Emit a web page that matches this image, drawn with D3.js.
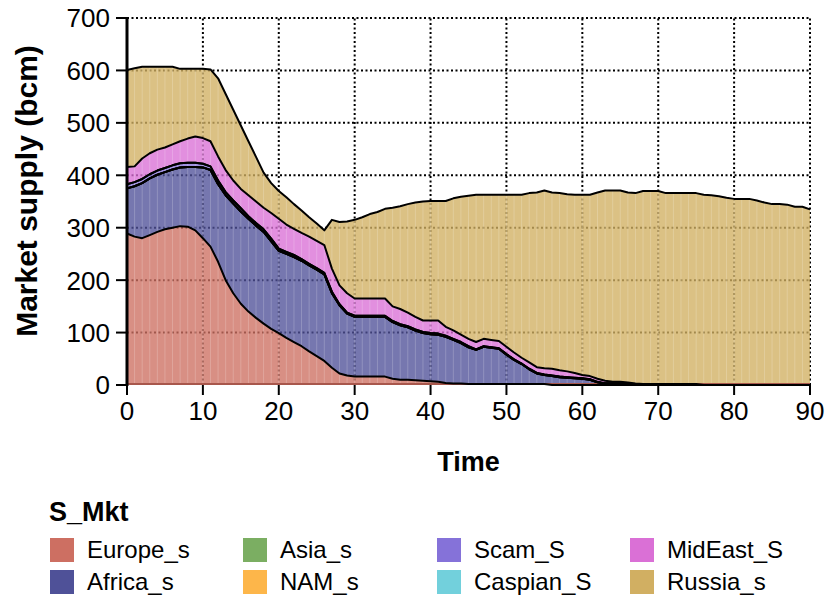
<!DOCTYPE html>
<html><head><meta charset="utf-8">
<script src="https://cdn.jsdelivr.net/npm/d3@7/dist/d3.min.js"></script>
<style>body{margin:0;background:#fff} text{font-family:"Liberation Sans",Arial,sans-serif;fill:#000}</style>
</head><body><svg id="c" width="827" height="595"></svg>
<script>
const time = [0,1,2,3,4,5,6,7,8,9,10,11,12,13,14,15,16,17,18,19,20,21,22,23,24,25,26,27,28,29,30,31,32,33,34,35,36,37,38,39,40,41,42,43,44,45,46,47,48,49,50,51,52,53,54,55,56,57,58,59,60,61,62,63,64,65,66,67,68,69,70,71,72,73,74,75,76,77,78,79,80,81,82,83,84,85,86,87,88,89,90];
const europe_s = [289,283,280,286,292,297,300,303,302,295, 280,264,235,200,175,155,140,128,117,107, 99,90,82,74,64,55,46,33,22,18, 16,16,16,16,16,12,10,10,9,8, 7,6,4,3,3,2,2,2,2,2, 2,2,2,2,2,2,0,0,0,0, 0,0,0,0,0,0,0,0,0,0, 0,0,0,0,0,0,0,0,0,0, 0,0,0,0,0,0,0,0,0,0,0];
const africa_s = [86,96,105,108,109,109,111,112,114,121, 135,146,148,162,171,176,177,176,175,167, 157,160,162,163,164,165,165,142,130,118, 114,114,114,114,114,108,104,100,95,91, 90,90,88,83,77,70,65,71,69,67, 56,46,38,28,20,17,17,15,14,13, 12,10,5,3,3,3,2,1,0,0, 0,0,0,0,0,0,0,0,0,0, 0,0,0,0,0,0,0,0,0,0,0];
const asia_s = [0,0,0,0,0,0,0,0,0,0, 0,0,0,0,0,0,0,0,0,0, 0,0,0,0,0,0,0,0,0,0, 0,0,0,0,0,0,0,0,0,0, 0,0,0,0,0,0,0,0,0,0, 0,0,0,0,0,0,0,0,0,0, 0,0,0,0,0,0,0,0,0,0, 0,0,0,0,0,0,0,0,0,0, 0,0,0,0,0,0,0,0,0,0,0];
const nam_s = [0,0,0,0,0,0,0,0,0,0, 0,0,0,0,0,0,0,0,0,0, 0,0,0,0,0,0,0,0,0,0, 0,0,0,0,0,0,0,0,0,0, 0,0,0,0,0,0,0,0,0,0, 0,0,0,0,0,0,0,0,0,0, 0,0,0,0,0,0,0,0,0,0, 0,0,0,0,0,0,0,0,0,0, 0,0,0,0,0,0,0,0,0,0,0];
const scam_S = [8,8,8,8,8,8,8,8,8,8, 7,7,7,6,6,6,5,5,5,5, 4,4,4,3,3,3,3,3,2,2, 2,2,2,2,2,2,2,2,2,2, 2,2,2,2,2,2,1,1,1,1, 1,1,1,1,1,1,1,1,1,1, 1,1,1,0,0,0,0,0,0,0, 0,0,0,0,0,0,0,0,0,0, 0,0,0,0,0,0,0,0,0,0,0];
const caspian_S = [0,0,0,0,0,0,0,0,0,0, 0,0,0,0,0,0,0,0,0,0, 0,0,0,0,0,0,0,0,0,0, 0,0,0,0,0,0,0,0,0,0, 0,0,0,0,0,0,0,0,0,0, 0,0,0,0,0,0,0,0,0,0, 0,0,0,0,0,0,0,0,0,0, 0,0,0,0,0,0,0,0,0,0, 0,0,0,0,0,0,0,0,0,0,0];
const midEast_S = [33,30,39,40,40,39,40,42,46,50, 49,48,46,42,38,37,40,41,41,49, 57,52,50,50,52,52,53,44,36,37, 33,33,33,33,33,28,29,26,24,22, 24,25,17,16,14,14,14,14,14,14, 14,13,11,12,11,12,13,12,11,9, 6,6,6,5,3,3,3,2,2,2, 2,2,2,2,2,2,0,0,0,0, 0,0,0,0,0,0,0,0,0,0,0];
const russia_s = [185,187,175,165,158,154,148,138,133,129, 132,137,149,145,135,121,103,85,67,57, 53,52,47,43,37,33,28,93,121,137, 150,155,161,165,171,188,196,207,218,227, 228,228,240,252,263,273,281,275,277,279, 290,301,311,323,333,339,336,338,338,340, 344,346,355,363,365,365,362,363,368,368, 368,364,364,364,364,364,363,362,360,357, 355,355,355,352,348,345,345,344,340,340,335];

const seriesNames = ["Europe_s","Africa_s","Asia_s","NAM_s","Scam_S","Caspian_S","MidEast_S","Russia_s"];
const seriesValues = [europe_s, africa_s, asia_s, nam_s, scam_S, caspian_S, midEast_S, russia_s];
const seriesColors = ["#CD6F62","#4F5198","#7BAE62","#FDB64A","#8572D9","#72D0DC","#DA70D6","#D1AF62"];
const xTicks = [0,10,20,30,40,50,60,70,80,90];
const yTicks = [0,100,200,300,400,500,600,700];
const legendTitle = "S_Mkt";
const xTitle = "Time";
const yTitle = "Market supply (bcm)";

const rows = time.map((t,i)=>{const r={t}; seriesNames.forEach((n,k)=>r[n]=seriesValues[k][i]); return r;});
const svg = d3.select("#c");
const L=127,R=810,T=18,B=385;
const x = d3.scaleLinear().domain([0,90]).range([L,R]);
const y = d3.scaleLinear().domain([0,700]).range([B,T]);

// grid
const grid = svg.append("g");
grid.selectAll("line.v").data(xTicks.filter(d=>d>0)).join("line")
  .attr("x1",d=>x(d)).attr("x2",d=>x(d)).attr("y1",B).attr("y2",T)
  .attr("stroke","#000").attr("stroke-width",2).attr("stroke-dasharray","2,2.5");
grid.selectAll("line.h").data(yTicks.filter(d=>d>0)).join("line")
  .attr("x1",L).attr("x2",R).attr("y1",d=>y(d)).attr("y2",d=>y(d))
  .attr("stroke","#000").attr("stroke-width",2).attr("stroke-dasharray","2,2.5");

const stack = d3.stack().keys(seriesNames);
const layers = stack(rows);
const area = d3.area().x(d=>x(d.data.t)).y0(d=>y(d[0])).y1(d=>y(d[1]));
svg.append("g").selectAll("path").data(layers).join("path")
  .attr("d",area).attr("fill",(d,i)=>seriesColors[i]).attr("fill-opacity",0.78);

// faint stripes between time steps
const totals = rows.map(r=>seriesNames.reduce((s,n)=>s+r[n],0));
svg.append("g").selectAll("line").data(time.slice(1,-1)).join("line")
  .attr("x1",d=>x(d)).attr("x2",d=>x(d)).attr("y1",y(0)).attr("y2",(d,i)=>y(totals[i+1]))
  .attr("stroke","#fff").attr("stroke-opacity",0.2).attr("stroke-width",1);

// baseline
svg.append("line").attr("x1",L).attr("x2",R).attr("y1",B-1).attr("y2",B-1)
  .attr("stroke","#a8574c").attr("stroke-width",2);

// outlines
const line = d3.line().x(d=>x(d.data.t)).y(d=>y(d[1]));
svg.append("g").selectAll("path").data(layers).join("path")
  .attr("d",line).attr("fill","none").attr("stroke","#000").attr("stroke-width",2).attr("stroke-linejoin","round");

// axes
svg.append("line").attr("x1",L).attr("x2",L).attr("y1",T).attr("y2",B+1).attr("stroke","#000").attr("stroke-width",3);
const yg = svg.append("g");
yg.selectAll("line").data(yTicks).join("line").attr("x1",L-11).attr("x2",L).attr("y1",d=>y(d)).attr("y2",d=>y(d)).attr("stroke","#000").attr("stroke-width",2);
yg.selectAll("text").data(yTicks).join("text").attr("x",L-17).attr("y",d=>y(d)).attr("dy","0.36em")
  .attr("text-anchor","end").attr("font-size",26).text(d=>d);
const xg = svg.append("g");
xg.selectAll("line").data(xTicks).join("line").attr("x1",d=>x(d)).attr("x2",d=>x(d)).attr("y1",B).attr("y2",B+10).attr("stroke","#000").attr("stroke-width",2);
xg.selectAll("text").data(xTicks).join("text").attr("x",d=>x(d)).attr("y",420)
  .attr("text-anchor","middle").attr("font-size",26).text(d=>d);

svg.append("text").attr("x",(L+R)/2).attr("y",471).attr("text-anchor","middle").attr("font-size",27).attr("font-weight","bold").text(xTitle);
svg.append("text").attr("transform","translate(37,191) rotate(-90)").attr("text-anchor","middle").attr("font-size",30).attr("font-weight","bold").text(yTitle);

// legend
svg.append("text").attr("x",49).attr("y",521).attr("font-size",27).attr("font-weight","bold").text(legendTitle);
const colX = [50,243,437,630];
const rowY = [538,570];
const lg = svg.append("g");
seriesNames.forEach((n,i)=>{
  const cx = colX[Math.floor(i/2)], cy = rowY[i%2];
  lg.append("rect").attr("x",cx).attr("y",cy).attr("width",24).attr("height",24).attr("fill",seriesColors[i]);
  lg.append("text").attr("x",cx+37).attr("y",cy+20).attr("font-size",24).text(n);
});
</script></body></html>
